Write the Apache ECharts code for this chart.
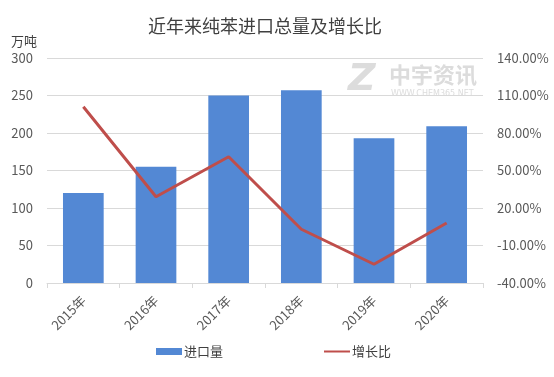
<!DOCTYPE html>
<html>
<head>
<meta charset="utf-8">
<script src="https://cdn.jsdelivr.net/npm/echarts@6/dist/echarts.min.js"></script>
<style>
  html, body { margin: 0; padding: 0; background: #fff; }
  #chart { width: 554px; height: 377px; }
</style>
</head>
<body>
<div id="chart"></div>
<script>
  // 数据
  const years = ["2015年", "2016年", "2017年", "2018年", "2019年", "2020年"];
  const importVolume = [120, 155, 250, 257, 193, 209]; // 万吨
  const growthRate = [101, 29, 61, 3, -25, 8]; // %
  const rightTicks = [-40, -10, 20, 50, 80, 110, 140];

  const font = "'Noto Sans CJK SC', 'Noto Sans', sans-serif";
  const myChart = echarts.init(document.getElementById("chart"));

  const option = {
    animation: false,
    textStyle: { fontFamily: font },
    title: {
      text: "近年来纯苯进口总量及增长比",
      left: 260,
      textAlign: "center",
      top: 12,
      textStyle: { fontSize: 18, fontWeight: "normal", color: "#404040", fontFamily: font }
    },
    // 水印
    graphic: [
      {
        type: "text",
        left: 348,
        top: 61,
        z: -1,
        style: { text: "Z", fill: "#dcdcdc", font: "italic bold 38px 'DejaVu Sans', sans-serif" }
      },
      {
        type: "text",
        left: 389,
        top: 64,
        z: -1,
        style: { text: "中宇资讯", fill: "#dcdcdc", font: "bold 22px " + font }
      },
      {
        type: "text",
        left: 391,
        top: 90,
        z: -1,
        style: { text: "WWW.CHEM365.NET", fill: "#dcdcdc", font: "8px 'DejaVu Sans', sans-serif" }
      }
    ],
    grid: { left: 47, right: 71, top: 58, bottom: 94 },
    legend: {
      bottom: 14,
      left: 151,
      itemGap: 100,
      itemWidth: 26,
      itemHeight: 7,
      textStyle: { fontSize: 13, color: "#404040", padding: [0, 0, 0, -3] },
      data: [
        { name: "进口量", icon: "rect" },
        { name: "增长比", itemStyle: { opacity: 0 } }
      ]
    },
    xAxis: {
      type: "category",
      data: years,
      axisLine: { lineStyle: { color: "#d9d9d9" } },
      axisTick: { show: true, length: 5, lineStyle: { color: "#d9d9d9" } },
      axisLabel: { rotate: 45, fontSize: 13, color: "#595959", margin: 15 }
    },
    yAxis: [
      {
        type: "value",
        min: 0,
        max: 300,
        interval: 50,
        name: "万吨",
        nameLocation: "end",
        nameGap: 10,
        nameTextStyle: { align: "right", padding: [0, 10, 0, 0], fontSize: 13, color: "#404040" },
        axisLine: { show: false },
        axisTick: { show: false },
        axisLabel: { fontSize: 13, color: "#595959", margin: 14 },
        splitLine: { lineStyle: { color: "#d9d9d9" } }
      },
      {
        type: "value",
        min: -40,
        max: 140,
        position: "right",
        axisLine: { show: false },
        axisTick: { show: false },
        splitLine: { show: false },
        axisLabel: {
          customValues: rightTicks,
          fontSize: 13,
          color: "#595959",
          margin: 14,
          formatter: (v) => v.toFixed(2) + "%"
        }
      }
    ],
    series: [
      {
        name: "进口量",
        type: "bar",
        data: importVolume,
        barWidth: "56%",
        itemStyle: { color: "#5388d4" }
      },
      {
        name: "增长比",
        type: "line",
        yAxisIndex: 1,
        data: growthRate,
        symbol: "none",
        lineStyle: { color: "#bf4e4b", width: 3 },
        itemStyle: { color: "#bf4e4b" }
      }
    ]
  };

  myChart.setOption(option);
</script>
</body>
</html>
